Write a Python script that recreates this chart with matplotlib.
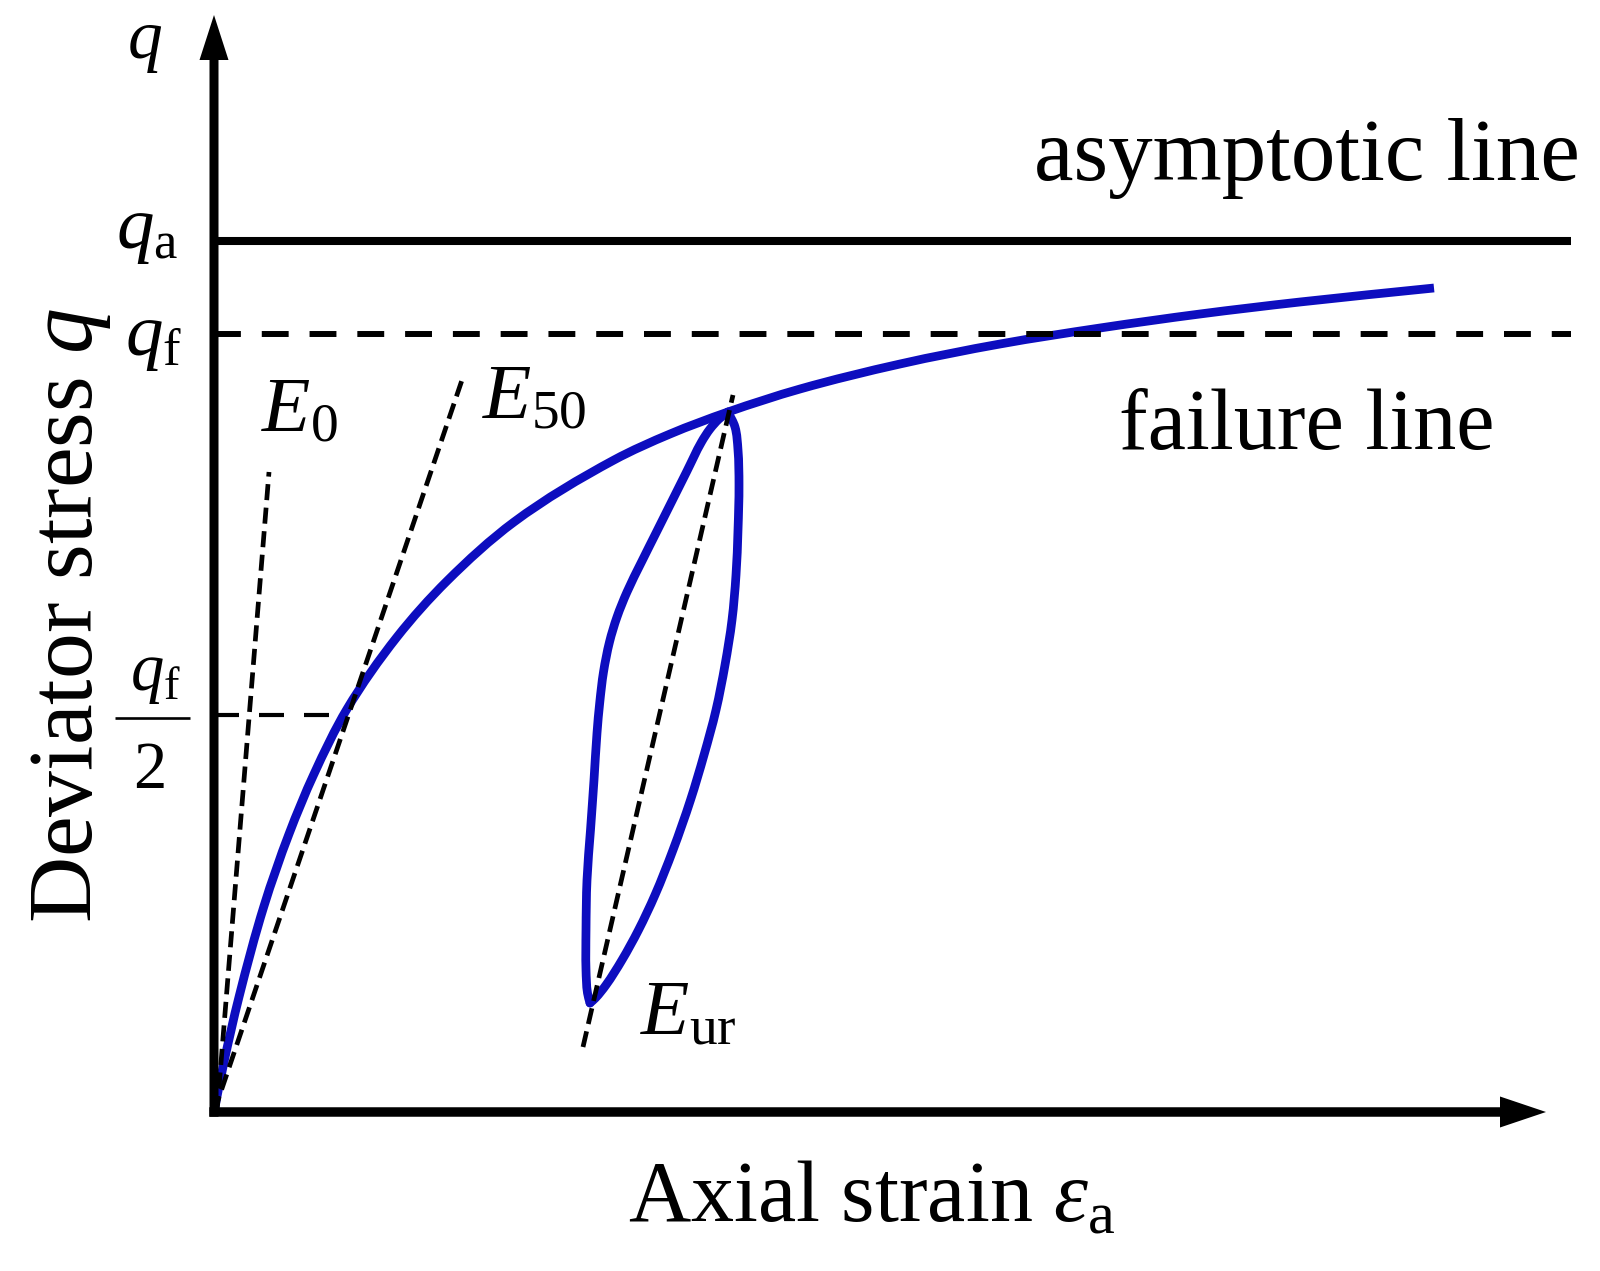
import math
import matplotlib
matplotlib.use("Agg")
import matplotlib.pyplot as plt
from matplotlib.path import Path
from matplotlib.patches import PathPatch

plt.rcParams['font.family'] = ['Liberation Serif', 'DejaVu Serif']
plt.rcParams['mathtext.fontset'] = 'custom'
plt.rcParams['mathtext.rm'] = 'Liberation Serif'
plt.rcParams['mathtext.it'] = 'Liberation Serif:italic'
plt.rcParams['mathtext.bf'] = 'Liberation Serif:bold'

# ---------------- data (schematic units) ----------------
q_a = 8.71          # asymptotic deviator stress
q_f = 7.78          # failure deviator stress
q_half = 3.97       # q_f / 2 level
line_end = 13.57    # strain where the reference lines end
half_end = 1.33     # strain where the q_f/2 guide meets the curve

backbone_strain = [0.00, 0.10, 0.25, 0.50, 0.75, 1.00, 1.33, 1.83, 2.33, 3.00,
                   4.00, 4.56, 5.14, 5.86, 6.86, 7.86, 8.86, 9.86, 10.86, 12.20]
backbone_q = [0.00, 0.50, 1.15, 2.06, 2.78, 3.38, 4.03, 4.75, 5.31, 5.90,
              6.52, 6.78, 7.00, 7.23, 7.48, 7.68, 7.84, 7.98, 8.10, 8.24]

unload_strain = [5.14, 5.21, 5.24, 5.25, 5.24, 5.22, 5.18, 5.11, 5.02, 4.90,
                 4.765, 4.59, 4.41, 4.245, 4.08, 3.92, 3.815, 3.76]
unload_q = [7.00, 6.85, 6.62, 6.27, 5.82, 5.37, 4.92, 4.47, 4.02, 3.57,
            3.12, 2.62, 2.17, 1.82, 1.52, 1.27, 1.14, 1.09]

reload_strain = [3.76, 3.735, 3.72, 3.72, 3.73, 3.765, 3.80, 3.83, 3.858, 3.895,
                 3.955, 4.03, 4.13, 4.275, 4.425, 4.575, 4.725, 4.875, 4.96, 5.05, 5.14]
reload_q = [1.09, 1.19, 1.42, 1.82, 2.32, 2.82, 3.32, 3.79, 4.10, 4.40,
            4.70, 4.95, 5.20, 5.50, 5.80, 6.10, 6.40, 6.70, 6.83, 6.93, 7.00]

E0_strain, E0_q = [0.03, 0.55], [0.00, 6.40]
E50_strain, E50_q = [0.00, 2.48], [0.00, 7.32]
Eur_strain, Eur_q = [3.69, 5.19], [0.65, 7.17]

x_axis_end = 13.32
y_axis_end = 10.97


def smooth_path(xs, ys):
    """Smooth drawing path (chord-length cubic Bezier) through the read points."""
    pts = list(zip(xs, ys))
    n = len(pts)
    d = [math.hypot(pts[i + 1][0] - pts[i][0], pts[i + 1][1] - pts[i][1]) for i in range(n - 1)]
    tans = []
    for i in range(n):
        if i == 0:
            tx, ty = (pts[1][0] - pts[0][0]) / d[0], (pts[1][1] - pts[0][1]) / d[0]
        elif i == n - 1:
            tx, ty = (pts[-1][0] - pts[-2][0]) / d[-1], (pts[-1][1] - pts[-2][1]) / d[-1]
        else:
            ax_ = (pts[i][0] - pts[i - 1][0]) / d[i - 1] + (pts[i + 1][0] - pts[i][0]) / d[i]
            ay_ = (pts[i][1] - pts[i - 1][1]) / d[i - 1] + (pts[i + 1][1] - pts[i][1]) / d[i]
            nrm = math.hypot(ax_, ay_) or 1.0
            tx, ty = ax_ / nrm, ay_ / nrm
        tans.append((tx, ty))
    verts = [pts[0]]
    codes = [Path.MOVETO]
    for i in range(n - 1):
        p1, p2 = pts[i], pts[i + 1]
        k = d[i] / 3.0
        c1 = (p1[0] + tans[i][0] * k, p1[1] + tans[i][1] * k)
        c2 = (p2[0] - tans[i + 1][0] * k, p2[1] - tans[i + 1][1] * k)
        verts += [c1, c2, p2]
        codes += [Path.CURVE4] * 3
    return Path(verts, codes)


# ---------------- figure ----------------
fig = plt.figure(figsize=(16, 12.71), dpi=100)
ax = fig.add_axes([0, 0, 1, 1])
ax.set_xlim(-2.14, 13.86)
ax.set_ylim(-1.59, 11.12)
ax.axis('off')

blue = '#0d0dbf'

# reference lines
ax.plot([0, line_end], [q_a, q_a], color='black', lw=5.8, solid_capstyle='butt', zorder=3)
ax.plot([0, line_end], [q_f, q_f], color='black', lw=4.3, dashes=(4.5, 3.5),
        dash_capstyle='butt', zorder=3)
ax.plot([0, half_end], [q_half, q_half], color='black', lw=3.0, dashes=(6.0, 4.8),
        dash_capstyle='butt', zorder=3)

# stress-strain curve and unload/reload loop
ax.add_patch(PathPatch(smooth_path(backbone_strain, backbone_q), facecolor='none',
                       edgecolor=blue, lw=6.3, capstyle='butt', joinstyle='round', zorder=2))
ax.add_patch(PathPatch(smooth_path(unload_strain, unload_q), facecolor='none',
                       edgecolor=blue, lw=6.3, capstyle='round', joinstyle='round', zorder=2))
ax.add_patch(PathPatch(smooth_path(reload_strain, reload_q), facecolor='none',
                       edgecolor=blue, lw=6.3, capstyle='round', joinstyle='round', zorder=2))

# modulus lines
for xs, ys in [(E0_strain, E0_q), (E50_strain, E50_q), (Eur_strain, Eur_q)]:
    ax.plot(xs, ys, color='black', lw=3.4, dashes=(3.4, 1.6), dash_capstyle='butt', zorder=4)

# axes with arrows
ax.arrow(-0.047, 0, x_axis_end + 0.047, 0, width=0.095, head_width=0.31, head_length=0.46,
         length_includes_head=True, color='black', lw=0, zorder=5)
ax.arrow(0, -0.047, 0, y_axis_end + 0.047, width=0.09, head_width=0.29, head_length=0.45,
         length_includes_head=True, color='black', lw=0, zorder=5)

# ---------------- texts ----------------
ax.text(-0.69, 10.54, r'$q$', fontsize=50, ha='center', va='baseline')
ax.text(-0.36, 8.64, r'$q_\mathrm{a}$', fontsize=54, ha='right', va='baseline')
ax.text(-0.32, 7.57, r'$q_\mathrm{f}$', fontsize=54, ha='right', va='baseline')

ax.text(-0.59, 4.22, r'$q_\mathrm{f}$', fontsize=48, ha='center', va='baseline')
ax.plot([-0.99, -0.24], [3.94, 3.94], color='black', lw=1.9, solid_capstyle='butt')
ax.text(-0.64, 3.24, '2', fontsize=48, ha='center', va='baseline')

ax.text(-1.22, 4.97, r'Deviator stress $q$', fontsize=66, rotation=90,
        rotation_mode='anchor', ha='center', va='baseline')
ax.text(4.14, -1.10, r'Axial strain $\varepsilon_\mathrm{a}$', fontsize=62,
        ha='left', va='baseline')

ax.text(13.66, 9.32, 'asymptotic line', fontsize=64, ha='right', va='baseline')
ax.text(9.05, 6.63, 'failure line', fontsize=62, ha='left', va='baseline')

ax.text(0.47, 6.81, r'$E_0$', fontsize=57, ha='left', va='baseline')
ax.text(2.68, 6.94, r'$E_{50}$', fontsize=57, ha='left', va='baseline')
ax.text(4.26, 0.77, r'$E_\mathrm{ur}$', fontsize=57, ha='left', va='baseline')

fig.savefig('out.png', dpi=100)
